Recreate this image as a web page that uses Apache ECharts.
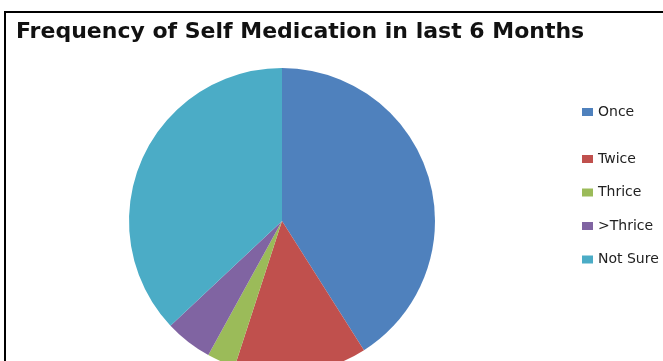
<!DOCTYPE html>
<html>
<head>
<meta charset="utf-8">
<script src="https://cdn.jsdelivr.net/npm/echarts@6/dist/echarts.min.js"></script>
<style>
html,body{margin:0;padding:0;background:#fff;}
#c{width:663px;height:361px;}
</style>
</head>
<body>
<div id="c"></div>
<script>
const titleText = 'Frequency of Self Medication in last 6 Months';
const categories = ['Once', 'Twice', 'Thrice', '>Thrice', 'Not Sure'];
const values = [41, 14, 3, 5, 37];
const colors = ['#4F81BD', '#C0504D', '#9BBB59', '#8064A2', '#4BACC6'];

const chart = echarts.init(document.getElementById('c'), null, {renderer: 'canvas'});
const legendText = {fontFamily: 'DejaVu Sans', fontSize: 14, color: '#222'};
chart.setOption({
  animation: false,
  color: colors,
  title: {
    text: titleText,
    left: 11,
    top: 16,
    textStyle: {fontFamily: 'DejaVu Sans', fontWeight: 'bold', fontSize: 22, color: '#111'}
  },
  legend: [
    {
      data: [categories[0]],
      orient: 'vertical',
      left: 582,
      top: 105,
      itemWidth: 11,
      itemHeight: 8,
      itemGap: 20,
      icon: 'rect',
      textStyle: legendText,
      selectedMode: false,
      padding: 0
    },
    {
      data: categories.slice(1),
      orient: 'vertical',
      left: 582,
      top: 152,
      itemWidth: 11,
      itemHeight: 8,
      itemGap: 19.5,
      icon: 'rect',
      textStyle: legendText,
      selectedMode: false,
      padding: 0
    }
  ],
  graphic: [{
    type: 'rect',
    shape: {x: 5, y: 12, width: 700, height: 400},
    style: {fill: 'none', stroke: '#000', lineWidth: 2},
    silent: true
  }],
  series: [{
    type: 'pie',
    center: [282, 221],
    radius: 153,
    startAngle: 90,
    clockwise: true,
    label: {show: false},
    labelLine: {show: false},
    itemStyle: {borderWidth: 0},
    emphasis: {disabled: true},
    data: categories.map((n, i) => ({name: n, value: values[i]}))
  }]
});
</script>
</body>
</html>
